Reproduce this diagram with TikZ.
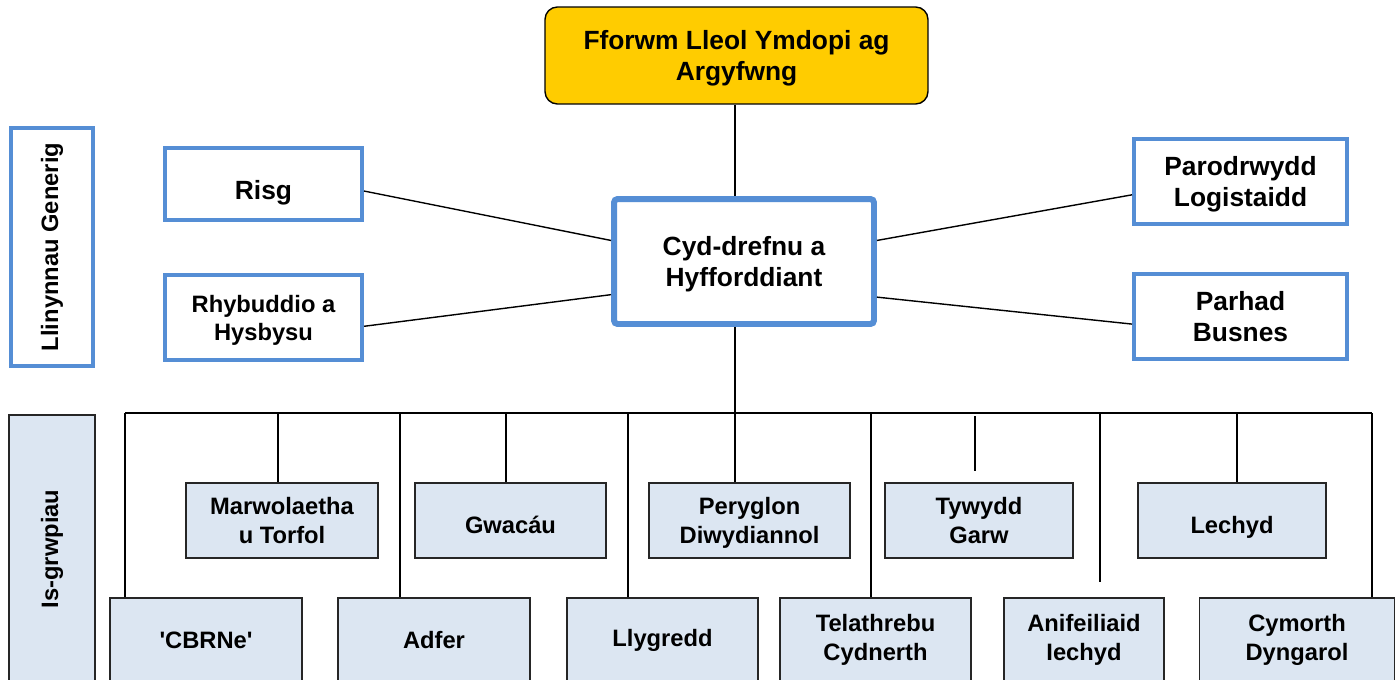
\documentclass[tikz,border=0pt]{standalone}
\usepackage{fontspec}
\setmainfont{Liberation Sans}
\usepackage{tikz}
\usetikzlibrary{positioning,calc}
\definecolor{fforwm}{RGB}{255,204,0}
\definecolor{glas}{RGB}{85,142,213}
\definecolor{isgrwp}{RGB}{220,230,242}
\tikzstyle{bigtext}   = [font=\fontsize{15}{18}\selectfont\bfseries, align=center]
\tikzstyle{smalltext} = [font=\fontsize{13.5}{16.5}\selectfont\bfseries, align=center]
\tikzstyle{forum}     = [rectangle, draw=black, thick, rounded corners=7pt, fill=fforwm, bigtext, text depth=-7pt]
\tikzstyle{hub}       = [rectangle, draw=glas, line width=3.4pt, rounded corners=2pt, fill=white, bigtext, text depth=-0.8pt]
\tikzstyle{strand}    = [rectangle, draw=glas, line width=2.3pt, fill=white, text depth=0pt]
\tikzstyle{subgroup}  = [rectangle, draw=black!85, thick, fill=isgrwp, smalltext]
\tikzstyle{upper}     = [subgroup, minimum height=1.5cm, text depth=0pt]
\tikzstyle{lower}     = [subgroup, minimum height=1.68cm]
\tikzstyle{oneline}   = [text height=14.8pt]
\tikzstyle{link}      = [black, line width=0.8pt]

\begin{document}
\begin{tikzpicture}[%
    x=0.02cm,
    y=-0.02cm
  ]
      \useasboundingbox (0,0) rectangle (1395,679);
      \clip (0,0) rectangle (1395,679);

      %Forum and hub
      \draw (736.5,55.5) node[forum, minimum width=7.66cm, minimum height=1.94cm] (fforwm) {Fforwm Lleol Ymdopi ag\\Argyfwng};
      \draw (744,261.5) node[hub, minimum width=5.2cm, minimum height=2.5cm] (cyd) {Cyd-drefnu a\\Hyfforddiant};

      %Generic strands
      \draw (52,247) node[strand, minimum width=1.64cm, minimum height=4.76cm] (generig) {};
      \node[smalltext, rotate=90] at (generig.center) {Llinynnau Generig};
      \draw (263.5,184) node[strand, bigtext, text height=18.2pt, minimum width=3.94cm, minimum height=1.44cm] (risg) {Risg};
      \draw (263.5,317.5) node[strand, smalltext, font=\fontsize{13.5}{16}\selectfont\bfseries, minimum width=3.94cm, minimum height=1.7cm] (rhybudd) {Rhybuddio a\\Hysbysu};
      \draw (1240.5,181.5) node[strand, bigtext, minimum width=4.26cm, minimum height=1.7cm] (parod) {Parodrwydd\\Logistaidd};
      \draw (1240.5,316.5) node[strand, bigtext, minimum width=4.26cm, minimum height=1.7cm] (parhad) {Parhad\\Busnes};

      %Sub-groups
      \draw (52,549) node[subgroup, minimum width=1.72cm, minimum height=5.36cm] (isgrwp) {};
      \node[smalltext, rotate=90] at (isgrwp.center) {Is-grwpiau};
      \draw (282,520.5)    node[upper, minimum width=3.84cm] (marw)   {Marwolaetha\\u Torfol};
      \draw (510.5,520.5)  node[upper, oneline, minimum width=3.82cm] (gwacau) {Gwacáu};
      \draw (749.5,520.5)  node[upper, minimum width=4.02cm] (peryg)  {Peryglon\\Diwydiannol};
      \draw (979,520.5)    node[upper, minimum width=3.76cm] (tywydd) {Tywydd\\Garw};
      \draw (1232,520.5)   node[upper, oneline, minimum width=3.76cm] (lech)   {Lechyd};
      \draw (206,640)      node[lower, minimum width=3.84cm] (cbrne)  {\textquotesingle CBRNe\textquotesingle};
      \draw (434,640)      node[lower, minimum width=3.84cm] (adfer)  {Adfer};
      \draw (662.5,640)    node[lower, minimum width=3.82cm] (llyg)   {Llygredd};
      \draw (875.5,640)    node[lower, minimum width=3.82cm] (tela)   {Telathrebu\\Cydnerth};
      \draw (1084,640)     node[lower, minimum width=3.2cm]  (anif)   {Anifeiliaid\\Iechyd};
      \draw (1297,640)     node[lower, minimum width=3.9cm]  (cymorth) {Cymorth\\Dyngarol};

      %Links to the hub
      \coordinate (stem) at (735,0);
      \draw[link] (stem |- fforwm.south) -- (stem |- cyd.north);
      \draw[link] (risg.356) -- (cyd.171);
      \draw[link] (rhybudd.355) -- (cyd.194);
      \draw[link] (parod.187) -- (cyd.9);
      \draw[link] (parhad.184.5) -- (cyd.345);

      %Bus
      \coordinate (busL) at (125,413);
      \coordinate (busR) at (1372,413);
      \draw[link] (stem |- cyd.south) -- (stem |- busL);
      \draw[link] (busL) -- (busR);
      \foreach \x/\n in {125/cbrne, 278/marw, 400/adfer, 506/gwacau, 628/llyg, 735/peryg, 871/tela, 1237/lech, 1372/cymorth}{
        \coordinate (drop) at (\x,413);
        \draw[link] (drop) -- (drop |- \n.north);
      }
      \coordinate (stubA) at (975,416);
      \coordinate (stubB) at (975,471);
      \draw[link] (stubA) -- (stubB);
      \coordinate (stubC) at (1100,413);
      \coordinate (stubD) at (1100,582);
      \draw[link] (stubC) -- (stubD);
    \end{tikzpicture}
\end{document}
